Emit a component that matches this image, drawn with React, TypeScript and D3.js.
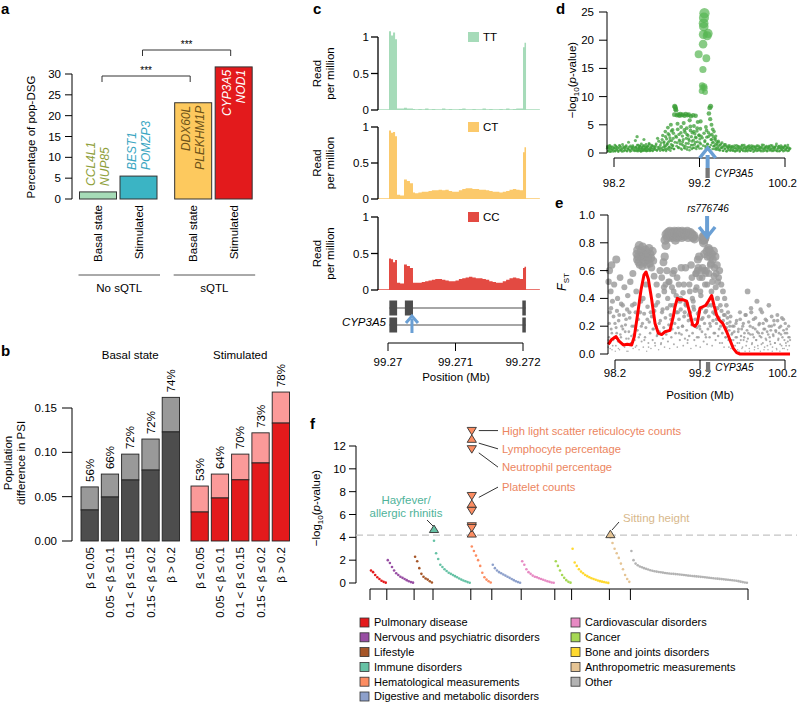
import React from 'react';
import * as d3 from 'd3';

const FONT = "'Liberation Sans', Arial, Helvetica, sans-serif";

// ---------------- Panel a ----------------
const aConditions = ['Basal state', 'Stimulated', 'Basal state', 'Stimulated'];
const aGroupOf = [0, 0, 1, 1];
const aGroupNames = ['No sQTL', 'sQTL'];
const aPercent = [1.7, 5.5, 23.1, 31.7];
const aGenesTop = ['CCL4L1', 'BEST1', 'DDX60L', 'CYP3A5'];
const aGenesBottom = ['NUP85', 'POMZP3', 'PLEKHM1P', 'NOD1'];
const aTicks = [0, 5, 10, 15, 20, 25, 30];
const aSignifPairs: [number, number, string][] = [[0, 2, '***'], [1, 3, '***']];

// ---------------- Panel b ----------------
const bBins = ['β ≤ 0.05', '0.05 < β ≤ 0.1', '0.1 < β ≤ 0.15', '0.15 < β ≤ 0.2', 'β > 0.2'];
const bBasalTotal = [0.061, 0.0755, 0.098, 0.115, 0.162];
const bBasalShared = [0.035, 0.0496, 0.0688, 0.08, 0.123];
const bBasalPct = ['56%', '66%', '72%', '72%', '74%'];
const bStimTotal = [0.062, 0.0755, 0.098, 0.122, 0.168];
const bStimShared = [0.0327, 0.0485, 0.069, 0.088, 0.133];
const bStimPct = ['53%', '64%', '70%', '73%', '78%'];
const bTicks = [0, 0.05, 0.1, 0.15];

// ---------------- Panel c ----------------
const cGenotypes = ['TT', 'CT', 'CC'];
const cBinStartBp = [-160, 15, 45, 75, 105, 133, 180, 237, 280, 325, 370, 400, 450, 500, 550, 600, 650, 700, 750, 800, 850, 900, 950, 1000, 1050, 1100, 1150, 1200, 1250, 1300, 1350, 1400, 1450, 1500, 1550, 1600, 1650, 1700, 1750, 1800, 1850, 1900, 1950, 2000, 2022, 2045];
const cBinEndBp = 2250;
const cCovTT = [0.01, 1.08, 1.02, 1.06, 0.97, 0.02, 0.02, 0.03, 0.02, 0.02, 0.015,
  0.01, 0.015, 0.01, 0.02, 0.01, 0.015, 0.01, 0.01, 0.02, 0.01, 0.015, 0.01, 0.01, 0.015, 0.02, 0.01, 0.01, 0.015, 0.01, 0.01, 0.02, 0.01, 0.015, 0.01, 0.01, 0.015, 0.01, 0.02, 0.01, 0.015, 0.02, 0.02,
  0.86, 0.92, 0.01];
const cCovCT = [0.01, 0.95, 0.92, 0.93, 0.87, 0.06, 0.05, 0.27, 0.25, 0.22, 0.09,
  0.08, 0.09, 0.1, 0.1, 0.11, 0.12, 0.12, 0.13, 0.12, 0.13, 0.11, 0.1, 0.1, 0.12, 0.14, 0.15, 0.15, 0.14, 0.14, 0.13, 0.13, 0.12, 0.11, 0.1, 0.1, 0.09, 0.1, 0.11, 0.13, 0.14, 0.13, 0.12,
  0.65, 0.72, 0.01];
const cCovCC = [0.01, 0.43, 0.42, 0.38, 0.41, 0.1, 0.09, 0.35, 0.33, 0.3, 0.1,
  0.1, 0.1, 0.11, 0.12, 0.13, 0.14, 0.15, 0.15, 0.14, 0.13, 0.12, 0.12, 0.13, 0.15, 0.16, 0.17, 0.18, 0.17, 0.16, 0.16, 0.15, 0.14, 0.12, 0.11, 0.1, 0.1, 0.12, 0.14, 0.16, 0.17, 0.16, 0.15,
  0.3, 0.32, 0.01];
const cTranscript1 = [[20, 135], [250, 370], [1990, 2040]];
const cTranscript2 = [[20, 135], [1990, 2040]];
const cSnpBp = 355;
const cXTicks = [99.27, 99.271, 99.272];

// ---------------- Panels d & e (SNPs: position Mb, -log10 p, FST) ----------------
const snps: [number, number, number][] = [
  [98.12, 0.8, 0.05], [98.125, 1.2, 0.52], [98.13, 0.3, 0.12], [98.135, 0.9, 0.6], [98.14, 0.5, 0.3], [98.145, 1.3, 0.08], [98.15, 0.2, 0.45], [98.155, 0.7, 0.18], [98.16, 1.0, 0.64], [98.165, 0.4, 0.03],
  [98.17, 1.1, 0.38], [98.18, 0.6, 0.1], [98.19, 0.25, 0.5], [98.2, 0.9, 0.22], [98.21, 1.4, 0.06], [98.215, 0.35, 0.68], [98.22, 0.75, 0.15], [98.23, 1.05, 0.4], [98.24, 0.5, 0.04], [98.25, 0.2, 0.28],
  [98.26, 0.85, 0.55], [98.27, 1.25, 0.12], [98.28, 0.45, 0.2], [98.29, 0.65, 0.35], [98.3, 1.5, 0.07], [98.31, 0.3, 0.48], [98.32, 0.95, 0.16], [98.33, 0.55, 0.25], [98.34, 1.15, 0.02], [98.35, 0.4, 0.42],
  [98.36, 0.8, 0.11], [98.37, 1.9, 0.3], [98.38, 0.6, 0.52], [98.39, 0.25, 0.08], [98.4, 1.0, 0.2], [98.41, 0.7, 0.58], [98.42, 1.3, 0.14], [98.43, 0.45, 0.36], [98.44, 0.9, 0.05], [98.45, 2.2, 0.45],
  [98.455, 0.5, 0.72], [98.46, 1.1, 0.68], [98.465, 0.35, 0.75], [98.47, 2.9, 0.7], [98.475, 0.8, 0.66], [98.48, 0.3, 0.12], [98.485, 1.4, 0.78], [98.49, 0.6, 0.64], [98.495, 1.0, 0.3], [98.5, 0.45, 0.71],
  [98.505, 1.2, 0.74], [98.51, 0.7, 0.2], [98.515, 0.25, 0.69], [98.52, 1.6, 0.63], [98.525, 0.5, 0.77], [98.53, 0.9, 0.4], [98.535, 0.35, 0.72], [98.54, 1.3, 0.66], [98.545, 0.6, 0.1], [98.55, 2.4, 0.7],
  [98.555, 0.8, 0.67], [98.56, 0.4, 0.75], [98.565, 1.1, 0.5], [98.57, 0.55, 0.73], [98.575, 1.5, 0.64], [98.58, 0.3, 0.25], [98.585, 0.95, 0.7], [98.59, 0.6, 0.68], [98.595, 1.2, 0.05], [98.6, 0.4, 0.76],
  [98.61, 1.7, 0.65], [98.615, 0.7, 0.72], [98.62, 0.35, 0.3], [98.625, 1.0, 0.69], [98.63, 0.5, 0.62], [98.64, 1.4, 0.74], [98.645, 0.8, 0.18], [98.65, 0.45, 0.67], [98.66, 1.2, 0.56], [98.67, 0.6, 0.08],
  [98.68, 0.9, 0.35], [98.69, 1.3, 0.5], [98.7, 0.5, 0.14], [98.71, 2.6, 0.42], [98.72, 0.7, 0.22], [98.73, 1.1, 0.6], [98.74, 0.4, 0.07], [98.75, 1.8, 0.55], [98.76, 0.6, 0.32], [98.77, 3.1, 0.66],
  [98.775, 1.0, 0.48], [98.78, 0.5, 0.45], [98.785, 2.0, 0.7], [98.79, 1.4, 0.82], [98.795, 0.7, 0.5], [98.8, 3.8, 0.78], [98.805, 1.2, 0.86], [98.81, 0.35, 0.6], [98.815, 2.5, 0.84], [98.82, 1.6, 0.4],
  [98.825, 0.8, 0.87], [98.83, 4.5, 0.52], [98.835, 1.9, 0.85], [98.84, 0.6, 0.52], [98.845, 3.2, 0.88], [98.85, 1.1, 0.35], [98.855, 2.7, 0.86], [98.86, 0.4, 0.25], [98.865, 5.0, 0.84], [98.87, 1.5, 0.48],
  [98.875, 2.2, 0.87], [98.88, 0.9, 0.58], [98.885, 4.1, 0.86], [98.89, 1.3, 0.45], [98.895, 3.5, 0.6], [98.9, 0.7, 0.88], [98.905, 6.8, 0.85], [98.91, 8.3, 0.82], [98.915, 8.1, 0.87], [98.92, 7.8, 0.42],
  [98.925, 7.6, 0.84], [98.93, 2.8, 0.55], [98.935, 6.7, 0.86], [98.94, 1.8, 0.3], [98.945, 4.2, 0.88], [98.95, 6.8, 0.5], [98.955, 1.0, 0.15], [98.96, 3.3, 0.85], [98.965, 6.6, 0.38], [98.97, 2.1, 0.4],
  [98.975, 6.9, 0.87], [98.98, 0.8, 0.62], [98.985, 4.6, 0.84], [98.99, 6.7, 0.88], [98.995, 1.5, 0.2], [99.0, 3.0, 0.44], [99.005, 6.8, 0.86], [99.01, 2.4, 0.5], [99.015, 5.3, 0.85], [99.02, 0.9, 0.3],
  [99.025, 6.6, 0.87], [99.03, 3.7, 0.62], [99.035, 1.2, 0.35], [99.04, 6.9, 0.86], [99.045, 2.6, 0.36], [99.05, 4.4, 0.88], [99.055, 0.6, 0.1], [99.06, 6.7, 0.84], [99.065, 3.1, 0.28], [99.07, 1.7, 0.86],
  [99.075, 6.8, 0.5], [99.08, 2.2, 0.45], [99.085, 5.8, 0.87], [99.09, 1.0, 0.25], [99.095, 4.0, 0.64], [99.1, 6.5, 0.86], [99.105, 2.9, 0.55], [99.11, 0.7, 0.4], [99.115, 3.6, 0.84], [99.12, 1.4, 0.38],
  [99.125, 6.7, 0.85], [99.13, 2.3, 0.32], [99.135, 4.8, 0.83], [99.14, 0.9, 0.2], [99.145, 3.4, 0.46], [99.15, 1.9, 0.58], [99.155, 6.6, 0.58], [99.16, 2.7, 0.48], [99.165, 1.1, 0.12], [99.17, 3.9, 0.6],
  [99.175, 2.0, 0.68], [99.18, 5.5, 0.62], [99.185, 1.3, 0.3], [99.19, 17.5, 0.7], [99.195, 3.2, 0.55], [99.2, 0.8, 0.18], [99.205, 2.5, 0.45], [99.21, 4.3, 0.42], [99.215, 1.6, 0.6], [99.22, 3.0, 0.25],
  [99.225, 11.0, 0.55], [99.23, 12.0, 0.62], [99.235, 11.6, 0.82], [99.24, 14.8, 0.84], [99.242, 19.3, 0.8], [99.245, 21.0, 0.82], [99.248, 23.0, 0.85], [99.25, 22.4, 0.72], [99.252, 24.0, 0.83], [99.255, 11.8, 0.6],
  [99.258, 24.8, 0.84], [99.26, 11.5, 0.5], [99.262, 2.0, 0.3], [99.265, 10.8, 0.58], [99.27, 1.2, 0.12], [99.275, 4.6, 0.6], [99.28, 16.8, 0.74], [99.285, 2.8, 0.5], [99.29, 20.8, 0.7], [99.295, 1.5, 0.35],
  [99.3, 21.2, 0.76], [99.305, 3.6, 0.58], [99.31, 7.0, 0.75], [99.315, 1.0, 0.22], [99.32, 8.0, 0.7], [99.325, 6.0, 0.64], [99.33, 8.3, 0.65], [99.335, 2.4, 0.45], [99.34, 5.0, 0.72], [99.345, 3.3, 0.52],
  [99.35, 1.8, 0.68], [99.355, 4.2, 0.3], [99.36, 2.9, 0.74], [99.365, 1.2, 0.56], [99.37, 3.8, 0.62], [99.375, 0.7, 0.15], [99.38, 2.4, 0.7], [99.385, 1.5, 0.48], [99.39, 3.0, 0.58], [99.395, 0.9, 0.25],
  [99.4, 2.1, 0.64], [99.405, 1.4, 0.4], [99.41, 0.6, 0.52], [99.42, 1.9, 0.55], [99.425, 0.8, 0.18], [99.43, 1.3, 0.6], [99.44, 0.5, 0.35], [99.45, 1.6, 0.5], [99.46, 0.9, 0.08], [99.47, 1.1, 0.45],
  [99.48, 0.4, 0.28], [99.49, 1.5, 0.4], [99.5, 0.7, 0.12], [99.51, 1.2, 0.35], [99.52, 0.3, 0.22], [99.53, 0.9, 0.3], [99.54, 1.3, 0.05], [99.55, 0.5, 0.2], [99.56, 1.0, 0.27], [99.57, 0.6, 0.1],
  [99.58, 1.1, 0.15], [99.59, 0.4, 0.06], [99.6, 0.8, 0.2], [99.61, 1.3, 0.03], [99.62, 0.3, 0.12], [99.63, 0.9, 0.24], [99.64, 0.5, 0.08], [99.65, 1.2, 0.16], [99.66, 0.7, 0.02], [99.67, 0.25, 0.3],
  [99.68, 1.0, 0.1], [99.69, 0.6, 0.18], [99.7, 1.4, 0.05], [99.71, 0.35, 0.22], [99.72, 0.8, 0.12], [99.73, 1.1, 0.02], [99.74, 0.45, 0.28], [99.75, 0.9, 0.09], [99.76, 0.3, 0.45], [99.77, 1.2, 0.15],
  [99.78, 0.6, 0.04], [99.79, 0.95, 0.2], [99.8, 0.4, 0.33], [99.81, 1.3, 0.07], [99.82, 0.7, 0.14], [99.83, 0.2, 0.25], [99.84, 1.0, 0.03], [99.85, 0.55, 0.18], [99.86, 1.15, 0.1], [99.87, 0.35, 0.38],
  [99.88, 0.8, 0.06], [99.89, 1.25, 0.15], [99.9, 0.5, 0.22], [99.91, 0.9, 0.02], [99.92, 0.3, 0.12], [99.93, 1.1, 0.3], [99.94, 0.65, 0.08], [99.95, 1.4, 0.18], [99.96, 0.4, 0.05], [99.97, 0.85, 0.25],
  [99.98, 1.05, 0.1], [99.99, 0.3, 0.16], [100.0, 0.75, 0.03], [100.01, 1.2, 0.35], [100.02, 0.45, 0.12], [100.03, 0.9, 0.07], [100.04, 0.6, 0.2], [100.05, 1.3, 0.02], [100.06, 0.35, 0.14], [100.07, 0.8, 0.24],
  [100.08, 1.0, 0.08], [100.09, 0.5, 0.17], [100.1, 1.6, 0.04], [100.11, 0.3, 0.28], [100.12, 0.85, 0.1], [100.13, 1.2, 0.15], [100.14, 0.4, 0.02], [100.15, 0.95, 0.2], [100.16, 0.6, 0.06], [100.17, 1.1, 0.12],
  [100.18, 0.3, 0.25], [100.19, 0.8, 0.04], [100.2, 1.3, 0.15], [100.21, 0.5, 0.08], [100.22, 0.9, 0.18], [100.23, 0.35, 0.03], [100.24, 1.0, 0.12], [100.25, 0.6, 0.06], [100.26, 0.8, 0.1],
];
const snpsLow: [number, number, number][] = [
  [98.123, 1.0, 0.1], [98.133, 0.4, 0.22], [98.143, 0.9, 0.04], [98.153, 1.3, 0.33], [98.163, 0.2, 0.15], [98.173, 0.7, 0.06], [98.183, 1.1, 0.27], [98.193, 0.5, 0.12], [98.203, 0.85, 0.02], [98.213, 0.3, 0.19],
  [98.223, 1.2, 0.31], [98.233, 0.6, 0.09], [98.243, 0.95, 0.24], [98.253, 0.35, 0.03], [98.263, 1.35, 0.14], [98.273, 0.55, 0.36], [98.283, 1.0, 0.07], [98.293, 0.25, 0.18], [98.303, 0.8, 0.28], [98.313, 1.15, 0.05],
  [98.323, 0.45, 0.21], [98.333, 0.9, 0.11], [98.343, 1.3, 0.32], [98.353, 0.3, 0.02], [98.363, 0.7, 0.16], [98.373, 1.05, 0.26], [98.383, 0.5, 0.08], [98.393, 1.25, 0.13], [98.403, 0.4, 0.35], [98.413, 0.85, 0.04],
  [98.423, 1.1, 0.2], [98.433, 0.6, 0.1], [98.443, 0.35, 0.3], [98.453, 1.0, 0.06], [98.463, 0.75, 0.17], [98.473, 1.4, 0.25], [98.483, 0.5, 0.03], [98.493, 0.9, 0.14], [98.503, 1.2, 0.38], [98.513, 0.3, 0.09],
  [98.523, 0.8, 0.22], [98.533, 1.05, 0.05], [98.543, 0.45, 0.29], [98.553, 1.3, 0.12], [98.563, 0.65, 0.19], [98.573, 0.95, 0.02], [98.583, 0.4, 0.34], [98.593, 1.15, 0.08], [98.603, 0.7, 0.23], [98.613, 1.5, 0.15],
  [98.623, 0.5, 0.04], [98.633, 0.9, 0.27], [98.643, 1.25, 0.1], [98.653, 0.35, 0.18], [98.663, 0.8, 0.31], [98.673, 1.1, 0.06], [98.683, 0.6, 0.2], [98.693, 1.6, 0.13], [98.703, 0.45, 0.37], [98.713, 1.0, 0.03],
  [98.723, 2.1, 0.16], [98.733, 0.7, 0.24], [98.743, 1.4, 0.08], [98.753, 0.9, 0.3], [98.763, 2.4, 0.11], [98.773, 0.5, 0.19], [98.783, 1.8, 0.05], [98.793, 1.1, 0.26], [98.803, 2.9, 0.14], [98.813, 0.6, 0.33],
  [98.823, 1.5, 0.09], [98.833, 3.4, 0.21], [98.843, 1.0, 0.04], [98.853, 2.2, 0.28], [98.863, 0.8, 0.12], [98.873, 3.9, 0.18], [98.883, 1.3, 0.35], [98.893, 2.6, 0.07], [98.903, 0.7, 0.22], [98.913, 1.9, 0.15],
  [98.923, 3.0, 0.3], [98.933, 1.2, 0.05], [98.943, 5.2, 0.19], [98.953, 0.9, 0.25], [98.963, 2.3, 0.1], [98.973, 1.6, 0.32], [98.983, 3.6, 0.14], [98.993, 0.6, 0.2], [99.003, 2.0, 0.06], [99.013, 1.3, 0.27],
  [99.023, 4.1, 0.11], [99.033, 0.8, 0.36], [99.043, 1.7, 0.17], [99.053, 3.3, 0.08], [99.063, 1.0, 0.24], [99.073, 2.5, 0.13], [99.083, 0.5, 0.3], [99.093, 4.7, 0.04], [99.103, 1.4, 0.21], [99.113, 2.1, 0.15],
  [99.123, 0.9, 0.34], [99.133, 3.8, 0.1], [99.143, 1.5, 0.25], [99.153, 2.8, 0.06], [99.163, 0.7, 0.19], [99.173, 4.4, 0.29], [99.183, 1.1, 0.12], [99.193, 3.1, 0.2], [99.203, 1.8, 0.05], [99.213, 5.6, 0.33],
  [99.223, 0.8, 0.16], [99.233, 2.7, 0.26], [99.243, 1.3, 0.09], [99.253, 3.5, 0.22], [99.263, 2.2, 0.14], [99.273, 0.9, 0.31], [99.283, 4.0, 0.07], [99.293, 1.6, 0.18], [99.303, 2.9, 0.27], [99.313, 1.0, 0.12],
  [99.323, 3.2, 0.2], [99.333, 1.4, 0.35], [99.343, 2.4, 0.06], [99.353, 0.7, 0.24], [99.363, 1.9, 0.15], [99.373, 1.2, 0.29], [99.383, 2.6, 0.1], [99.393, 0.6, 0.22], [99.403, 1.7, 0.33], [99.413, 1.0, 0.13],
  [99.423, 2.1, 0.26], [99.433, 0.5, 0.08], [99.443, 1.4, 0.2], [99.453, 0.9, 0.31], [99.463, 1.8, 0.15], [99.473, 0.4, 0.24], [99.483, 1.2, 0.05], [99.493, 0.8, 0.28], [99.503, 1.5, 0.12], [99.513, 0.3, 0.19],
  [99.523, 1.1, 0.26], [99.533, 0.6, 0.1], [99.543, 0.95, 0.17], [99.553, 1.3, 0.23], [99.563, 0.4, 0.04], [99.573, 0.85, 0.14], [99.583, 1.2, 0.2], [99.593, 0.5, 0.1], [99.603, 1.0, 0.16], [99.613, 0.3, 0.06],
  [99.623, 0.75, 0.22], [99.633, 1.35, 0.12], [99.643, 0.45, 0.03], [99.653, 0.9, 0.18], [99.663, 1.15, 0.08], [99.673, 0.35, 0.25], [99.683, 0.8, 0.13], [99.693, 1.25, 0.04], [99.703, 0.55, 0.2], [99.713, 0.95, 0.1],
  [99.723, 1.4, 0.15], [99.733, 0.3, 0.28], [99.743, 0.7, 0.06], [99.753, 1.1, 0.17], [99.763, 0.5, 0.11], [99.773, 0.9, 0.23], [99.783, 1.3, 0.02], [99.793, 0.4, 0.14], [99.803, 0.85, 0.3], [99.813, 1.05, 0.08],
  [99.823, 0.6, 0.19], [99.833, 1.2, 0.12], [99.843, 0.35, 0.05], [99.853, 0.95, 0.26], [99.863, 0.7, 0.1], [99.873, 1.3, 0.16], [99.883, 0.45, 0.04], [99.893, 0.8, 0.21], [99.903, 1.1, 0.13], [99.913, 0.5, 0.32],
  [99.923, 0.9, 0.07], [99.933, 1.45, 0.15], [99.943, 0.3, 0.22], [99.953, 0.75, 0.03], [99.963, 1.0, 0.18], [99.973, 0.55, 0.11], [99.983, 1.2, 0.24], [99.993, 0.4, 0.06], [100.003, 0.9, 0.14], [100.013, 1.1, 0.2],
  [100.023, 0.6, 0.09], [100.033, 1.35, 0.17], [100.043, 0.35, 0.27], [100.053, 0.8, 0.05], [100.063, 1.05, 0.13], [100.073, 0.5, 0.21], [100.083, 0.95, 0.08], [100.093, 1.25, 0.16], [100.103, 0.4, 0.03], [100.113, 0.7, 0.24],
  [100.123, 1.15, 0.11], [100.133, 0.3, 0.19], [100.143, 0.85, 0.07], [100.153, 1.3, 0.14], [100.163, 0.55, 0.26], [100.173, 0.9, 0.04], [100.183, 1.0, 0.17], [100.193, 0.45, 0.1], [100.203, 1.2, 0.22], [100.213, 0.65, 0.06],
  [100.223, 0.95, 0.15], [100.233, 1.4, 0.09], [100.243, 0.4, 0.2], [100.253, 0.8, 0.12],
];
const eFstLine: [number, number][] = [
  [98.121, 0.07], [98.161, 0.105], [98.212, 0.125], [98.251, 0.09], [98.298, 0.065], [98.345, 0.07], [98.396, 0.065], [98.427, 0.125],
  [98.467, 0.29], [98.506, 0.46], [98.541, 0.57], [98.565, 0.59], [98.592, 0.54], [98.632, 0.39], [98.671, 0.22], [98.71, 0.15],
  [98.749, 0.14], [98.788, 0.16], [98.847, 0.17], [98.886, 0.27], [98.906, 0.34], [98.933, 0.4], [98.965, 0.39], [99.004, 0.39],
  [99.043, 0.38], [99.082, 0.29], [99.114, 0.21], [99.141, 0.2], [99.168, 0.22], [99.2, 0.33], [99.232, 0.34], [99.267, 0.35],
  [99.298, 0.38], [99.337, 0.42], [99.365, 0.35], [99.396, 0.28], [99.427, 0.245], [99.467, 0.22], [99.514, 0.16], [99.553, 0.1],
  [99.592, 0.04], [99.631, 0.01], [99.671, 0.0], [100.259, 0.0],
];
const deXTicks = [98.2, 99.2, 100.2];
const dYTicks = [0, 5, 10, 15, 20, 25];
const eYTicks = [0, 0.2, 0.4, 0.6, 0.8, 1.0];
const geneCyp = [99.27, 99.32];
const leadSnp = 99.26;

// ---------------- Panel f ----------------
const fCategories = ['Pulmonary disease', 'Nervous and psychiatric disorders', 'Lifestyle', 'Immune disorders', 'Hematological measurements', 'Digestive and metabolic disorders', 'Cardiovascular disorders', 'Cancer', 'Bone and joints disorders', 'Anthropometric measurements', 'Other'];
const fColors = ['#e41a1c', '#984ea3', '#a65628', '#66c2a5', '#fc8d62', '#8da0cb', '#e78ac3', '#a6d854', '#ffd92f', '#e5c494', '#b3b3b3'];
const fTraitValues: number[][] = [
  [1.1, 0.95, 0.7, 0.5, 0.35, 0.2, 0.1, 0.03],
  [2.0, 1.75, 1.4, 1.1, 0.85, 0.7, 0.55, 0.45, 0.35, 0.25, 0.15, 0.08, 0.03],
  [2.3, 1.9, 1.3, 0.8, 0.55, 0.4, 0.3, 0.15, 0.05],
  [3.7, 2.6, 2.1, 1.6, 1.4, 1.2, 1.05, 0.9, 0.8, 0.7, 0.6, 0.5, 0.4, 0.3, 0.22, 0.15, 0.08, 0.02],
  [3.2, 2.8, 2.4, 2.0, 1.5, 0.9, 0.5, 0.3, 0.15, 0.05],
  [1.6, 1.3, 1.1, 0.95, 0.85, 0.75, 0.65, 0.55, 0.45, 0.35, 0.25, 0.15, 0.08, 0.02],
  [1.9, 1.6, 1.2, 0.95, 0.8, 0.65, 0.55, 0.5, 0.42, 0.35, 0.28, 0.22, 0.15, 0.1, 0.05, 0.02],
  [1.9, 1.5, 1.1, 0.7, 0.45, 0.25, 0.1, 0.03],
  [3.0, 1.8, 1.5, 1.2, 1.0, 0.85, 0.7, 0.6, 0.5, 0.42, 0.35, 0.28, 0.22, 0.16, 0.12, 0.08, 0.04, 0.01],
  [4.0, 3.5, 3.0, 2.6, 2.2, 1.7, 1.2, 0.7, 0.35, 0.1],
  [2.8, 2.0, 1.7, 1.55, 1.45, 1.38, 1.3, 1.24, 1.18, 1.12, 1.07, 1.03, 1.0, 0.97, 0.94, 0.91, 0.88, 0.85, 0.83, 0.81, 0.8, 0.78, 0.76, 0.74, 0.72, 0.7, 0.68, 0.65, 0.63, 0.61, 0.6, 0.58, 0.56, 0.54, 0.52, 0.5, 0.48, 0.46, 0.44, 0.42, 0.4, 0.38, 0.36, 0.34, 0.32, 0.3, 0.28, 0.26, 0.24, 0.22, 0.2, 0.16, 0.12, 0.08, 0.05, 0.02],
];
const fSignificant: { cat: number; value: number; dir: 'up' | 'down' }[] = [
  { cat: 3, value: 4.75, dir: 'up' },
  { cat: 4, value: 13.3, dir: 'down' },
  { cat: 4, value: 12.65, dir: 'up' },
  { cat: 4, value: 11.7, dir: 'down' },
  { cat: 4, value: 7.6, dir: 'down' },
  { cat: 4, value: 6.95, dir: 'up' },
  { cat: 4, value: 6.3, dir: 'down' },
  { cat: 4, value: 4.95, dir: 'down' },
  { cat: 4, value: 4.35, dir: 'up' },
  { cat: 4, value: 4.8, dir: 'down' },
  { cat: 9, value: 4.3, dir: 'up' },
];
const fHemLabels: [string, number, number][] = [
  ['High light scatter reticulocyte counts', 13.35, 13.35],
  ['Lymphocyte percentage', 12.25, 11.75],
  ['Neutrophil percentage', 11.4, 10.15],
  ['Platelet counts', 7.5, 8.4],
];
const fThreshold = 4.2;
const fYTicks = [0, 2, 4, 6, 8, 10, 12];

const fs = 11.5;

function RotText({ x, y, anchor = 'middle', children, ...rest }: any) {
  return (
    <text transform={`translate(${x},${y}) rotate(-90)`} textAnchor={anchor} dy="0.35em" fontSize={fs} {...rest}>
      {children}
    </text>
  );
}

function PanelA() {
  const y = d3.scaleLinear().domain([0, 30]).range([199, 74]);
  const slotX = d3.scaleLinear().domain([0, 1]).range([98, 138.5]);
  const cx = (i: number) => slotX(i + aGroupOf[i] * 0.35);
  const bw = 37;
  const fills = ['#a6dbb7', '#3bb4c4', '#fdc95e', '#e31a1c'];
  const geneFill = ['#8f9f3a', '#3aa6c2', '#6e5318', '#ffffff'];
  const bracketY = [76, 50];
  return (
    <g>
      <text x={1} y={14} fontSize={15} fontWeight="bold">a</text>
      <line x1={72} x2={72} y1={y(0)} y2={y(30)} stroke="#000" />
      {aTicks.map(t => (
        <g key={t}>
          <line x1={65} x2={72} y1={y(t)} y2={y(t)} stroke="#000" />
          <text x={61} y={y(t)} dy="0.35em" textAnchor="end" fontSize={fs}>{t}</text>
        </g>
      ))}
      <RotText x={31} y={137}>Percentage of pop-DSG</RotText>
      {aPercent.map((v, i) => (
        <rect key={i} x={cx(i) - bw / 2} y={y(v)} width={bw} height={y(0) - y(v)} fill={fills[i]} stroke="#333" strokeWidth={1} />
      ))}
      {aPercent.map((v, i) => {
        const outside = i < 2;
        const yy = outside ? y(v) - 6 : y(v) + 3;
        const anchor = outside ? 'start' : 'end';
        return (
          <g key={'g' + i} fontStyle="italic">
            <RotText x={cx(i) - 7} y={yy} anchor={anchor} fill={geneFill[i]} fontSize={12}>{aGenesTop[i]}</RotText>
            <RotText x={cx(i) + 7} y={yy} anchor={anchor} fill={geneFill[i]} fontSize={12}>{aGenesBottom[i]}</RotText>
          </g>
        );
      })}
      {aConditions.map((c, i) => (
        <RotText key={'c' + i} x={cx(i)} y={205} anchor="end">{c}</RotText>
      ))}
      {aGroupNames.map((g, gi) => {
        const idx = aGroupOf.map((v, i) => (v === gi ? i : -1)).filter(i => i >= 0);
        const x1 = cx(idx[0]) - bw / 2 - 1;
        const x2 = cx(idx[idx.length - 1]) + bw / 2 + 3;
        return (
          <g key={g}>
            <line x1={x1} x2={x2} y1={275} y2={275} stroke="#555" />
            <text x={(x1 + x2) / 2} y={292} textAnchor="middle" fontSize={fs}>{g}</text>
          </g>
        );
      })}
      {aSignifPairs.map(([i, j, s], k) => {
        const x1 = cx(i) + 4;
        const x2 = cx(j) - 3;
        const by = bracketY[k];
        return (
          <g key={'s' + k}>
            <path d={`M${x1},${by + 6}V${by}H${x2}V${by + 6}`} fill="none" stroke="#333" />
            <text x={(x1 + x2) / 2} y={by - 2} textAnchor="middle" fontSize={10} fill="#000">{s}</text>
          </g>
        );
      })}
    </g>
  );
}

function PanelB() {
  const y = d3.scaleLinear().domain([0, 0.15]).range([541, 408]);
  const xB = d3.scaleBand().domain(bBins).range([81, 179.5]).paddingInner(0.148);
  const xS = d3.scaleBand().domain(bBins).range([191, 289.5]).paddingInner(0.148);
  const groups = [
    { x: xB, total: bBasalTotal, shared: bBasalShared, pct: bBasalPct, dark: '#4d4d4d', light: '#999999', title: 'Basal state' },
    { x: xS, total: bStimTotal, shared: bStimShared, pct: bStimPct, dark: '#e31a1c', light: '#fb9a99', title: 'Stimulated' },
  ];
  return (
    <g>
      <text x={1} y={356} fontSize={15} fontWeight="bold">b</text>
      <line x1={72} x2={72} y1={y(0)} y2={y(0.15)} stroke="#000" />
      {bTicks.map(t => (
        <g key={t}>
          <line x1={62} x2={72} y1={y(t)} y2={y(t)} stroke="#000" />
          <text x={57} y={y(t)} dy="0.35em" textAnchor="end" fontSize={fs}>{t.toFixed(2)}</text>
        </g>
      ))}
      <text transform="translate(12,463) rotate(-90)" textAnchor="middle" fontSize={fs}>Population</text>
      <text transform="translate(25,463) rotate(-90)" textAnchor="middle" fontSize={fs}>difference in PSI</text>
      {groups.map((g, gi) => {
        const [r0, r1] = g.x.range();
        return (
          <g key={gi}>
            <text x={(r0 + r1) / 2} y={359} textAnchor="middle" fontSize={fs}>{g.title}</text>
            {bBins.map((b, i) => {
              const x0 = g.x(b)!;
              const w = g.x.bandwidth();
              return (
                <g key={b}>
                  <rect x={x0} y={y(g.total[i])} width={w} height={y(g.shared[i]) - y(g.total[i])} fill={g.light} stroke="#222" strokeWidth={0.9} />
                  <rect x={x0} y={y(g.shared[i])} width={w} height={y(0) - y(g.shared[i])} fill={g.dark} stroke="#222" strokeWidth={0.9} />
                  <RotText x={x0 + w / 2} y={y(g.total[i]) - 5} anchor="start">{g.pct[i]}</RotText>
                  <RotText x={x0 + w / 2} y={547} anchor="end">{b}</RotText>
                </g>
              );
            })}
          </g>
        );
      })}
    </g>
  );
}

function PanelC() {
  const x = d3.scaleLinear().domain([99.27, 99.272]).range([388, 523]);
  const mb = (bp: number) => 99.27 + bp / 1e6;
  const tracks = [
    { name: cGenotypes[0], cov: cCovTT, top: 37, bottom: 110, fill: '#a6dbb9' },
    { name: cGenotypes[1], cov: cCovCT, top: 127, bottom: 199, fill: '#fbc96b' },
    { name: cGenotypes[2], cov: cCovCC, top: 217, bottom: 290, fill: '#e34a42' },
  ];
  const txY = [308, 325];
  const txs = [cTranscript1, cTranscript2];
  const ax = 378;
  const sx = x(mb(cSnpBp));
  return (
    <g>
      <text x={313} y={14} fontSize={15} fontWeight="bold">c</text>
      {tracks.map(t => {
        const y = d3.scaleLinear().domain([0, 1]).range([t.bottom, t.top]);
        const pts: [number, number][] = cBinStartBp.map((b, i) => [mb(b), t.cov[i]]);
        pts.push([mb(cBinEndBp), t.cov[t.cov.length - 1]]);
        const area = d3.area<[number, number]>().x(d => x(d[0])).y0(y(0)).y1(d => y(d[1])).curve(d3.curveStepAfter);
        const mid = (t.top + t.bottom) / 2;
        return (
          <g key={t.name}>
            <path d={area(pts)!} fill={t.fill} />
            <line x1={ax} x2={ax} y1={t.top} y2={t.bottom} stroke="#000" strokeWidth={1.3} />
            {[0, 0.5, 1].map(v => (
              <g key={v}>
                <line x1={ax - 7} x2={ax} y1={y(v)} y2={y(v)} stroke="#000" strokeWidth={1.3} />
                <text x={ax - 9} y={y(v)} dy="0.35em" textAnchor="end" fontSize={fs}>{v}</text>
              </g>
            ))}
            <text transform={`translate(321,${mid}) rotate(-90)`} textAnchor="middle" fontSize={fs}>Read</text>
            <text transform={`translate(334,${mid}) rotate(-90)`} textAnchor="middle" fontSize={fs}>per million</text>
            <rect x={468} y={t.top - 5} width={11} height={10} fill={t.fill} />
            <text x={483} y={t.top} dy="0.35em" fontSize={fs}>{t.name}</text>
          </g>
        );
      })}
      {txs.map((tx, k) => (
        <g key={k}>
          <line x1={x(mb(tx[0][0]))} x2={x(mb(tx[tx.length - 1][1]))} y1={txY[k]} y2={txY[k]} stroke="#888" strokeWidth={1.5} />
          {tx.map((e, j) => (
            <rect key={j} x={x(mb(e[0]))} y={txY[k] - 7.5} width={Math.max(3.5, x(mb(e[1])) - x(mb(e[0])))} height={15} fill="#4d4d4d" />
          ))}
        </g>
      ))}
      <text x={386} y={322} dy="0.35em" textAnchor="end" fontSize={fs} fontStyle="italic">CYP3A5</text>
      <g stroke="#6a9fd4" fill="none" strokeWidth={3}>
        <line x1={sx} x2={sx} y1={333} y2={319} />
        <path d={`M${sx - 6},${323} L${sx},${316} L${sx + 6},${323}`} />
      </g>
      <line x1={x(cXTicks[0])} x2={x(cXTicks[2])} y1={343} y2={343} stroke="#000" />
      {cXTicks.map(t => (
        <g key={t}>
          <line x1={x(t)} x2={x(t)} y1={343} y2={351} stroke="#000" />
          <text x={x(t)} y={366} textAnchor="middle" fontSize={fs}>{t}</text>
        </g>
      ))}
      <text x={456} y={381} textAnchor="middle" fontSize={fs}>Position (Mb)</text>
    </g>
  );
}

function XGeneAxis({ x, yLine, labelDy, geneDy, label }: any) {
  return (
    <g>
      <line x1={x(deXTicks[0])} x2={x(deXTicks[2])} y1={yLine} y2={yLine} stroke="#000" />
      {deXTicks.map((t, i) => {
        const last = i === deXTicks.length - 1;
        return (
          <g key={t}>
            <line x1={x(t)} x2={x(t)} y1={yLine} y2={yLine + 9} stroke="#000" />
            <text x={last ? 797 : x(t)} y={yLine + labelDy} textAnchor={last ? 'end' : 'middle'} fontSize={fs}>{t}</text>
          </g>
        );
      })}
      <rect x={x(geneCyp[0])} y={yLine + geneDy} width={Math.max(4, x(geneCyp[1]) - x(geneCyp[0]))} height={10} fill="#777" />
      <text x={x(geneCyp[1]) + 5} y={yLine + geneDy + 5} dy="0.35em" fontSize={10} fontStyle="italic">CYP3A5</text>
      {label && <text x={700} y={yLine + 39} textAnchor="middle" fontSize={fs}>{label}</text>}
    </g>
  );
}

function PanelD() {
  const x = d3.scaleLinear().domain([98.2, 100.2]).range([614, 785]);
  const y = d3.scaleLinear().domain([0, 25]).range([153, 12]);
  const sorted = [...snps, ...snpsLow].sort((a, b) => a[1] - b[1]);
  const ax = 607;
  const ar = x(leadSnp) + 3;
  return (
    <g>
      <text x={556} y={14} fontSize={15} fontWeight="bold">d</text>
      {sorted.map((s, i) => (
        <circle key={i} cx={x(s[0])} cy={y(s[1])} r={1.2 + s[1] * 0.16} fill={s[1] > 9 ? '#56b551' : '#3a9e35'} fillOpacity={s[1] > 9 ? 0.7 : 0.75} />
      ))}
      <line x1={ax} x2={ax} y1={y(0)} y2={y(25)} stroke="#000" />
      {dYTicks.map(t => (
        <g key={t}>
          <line x1={ax - 8} x2={ax} y1={y(t)} y2={y(t)} stroke="#000" />
          <text x={ax - 13} y={y(t)} dy="0.35em" textAnchor="end" fontSize={fs}>{t}</text>
        </g>
      ))}
      <text transform="translate(576,80) rotate(-90)" textAnchor="middle" fontSize={fs}>
        −log<tspan fontSize={8} dy={3}>10</tspan><tspan dy={-3}>(</tspan><tspan fontStyle="italic">p</tspan>-value)
      </text>
      <XGeneAxis x={x} yLine={158} labelDy={29} geneDy={10} />
      <g stroke="#6a9fd4" fill="none">
        <line x1={ar} x2={ar} y1={168} y2={155} strokeWidth={4} />
        <path d={`M${ar - 8},${158} L${ar},${148} L${ar + 8},${158}`} strokeWidth={3.5} />
      </g>
    </g>
  );
}

function PanelE() {
  const x = d3.scaleLinear().domain([98.2, 100.2]).range([615, 785]);
  const y = d3.scaleLinear().domain([0, 1]).range([354, 215]);
  const sorted = [...snps, ...snpsLow].sort((a, b) => a[2] - b[2]);
  const line = d3.line<[number, number]>().x(d => x(d[0])).y(d => y(d[1]));
  const ax = 608;
  const ar = x(leadSnp) + 2;
  return (
    <g>
      <text x={555} y={208} fontSize={15} fontWeight="bold">e</text>
      {sorted.map((s, i) => (
        <circle key={i} cx={x(s[0])} cy={y(s[2])} r={0.6 + s[2] * 5} fill="#999" fillOpacity={0.8} />
      ))}
      <path d={line(eFstLine)!} fill="none" stroke="#ff0000" strokeWidth={3} strokeLinejoin="round" />
      <line x1={ax} x2={ax} y1={y(0)} y2={y(1)} stroke="#000" />
      {eYTicks.map(t => (
        <g key={t}>
          <line x1={ax - 8} x2={ax} y1={y(t)} y2={y(t)} stroke="#000" />
          <text x={ax - 13} y={y(t)} dy="0.35em" textAnchor="end" fontSize={fs}>{t.toFixed(1)}</text>
        </g>
      ))}
      <text transform="translate(566,282) rotate(-90)" textAnchor="middle" fontSize={fs + 1} fontStyle="italic">
        F<tspan fontSize={8} dy={3} fontStyle="normal">ST</tspan>
      </text>
      <XGeneAxis x={x} yLine={360} labelDy={17} geneDy={2} label="Position (Mb)" />
      <text x={708} y={212} textAnchor="middle" fontSize={10} fontStyle="italic">rs776746</text>
      <g stroke="#6a9fd4" fill="none">
        <line x1={ar} x2={ar} y1={216} y2={234} strokeWidth={4} />
        <path d={`M${ar - 8},${227} L${ar},${237} L${ar + 8},${227}`} strokeWidth={3.5} />
      </g>
    </g>
  );
}

function tri(cx: number, cy: number, dir: 'up' | 'down', h = 7.5, w = 4.6) {
  if (dir === 'up') return `M${cx - w},${cy + h / 2}L${cx + w},${cy + h / 2}L${cx},${cy - h / 2}Z`;
  return `M${cx - w},${cy - h / 2}L${cx + w},${cy - h / 2}L${cx},${cy + h / 2}Z`;
}

function PanelF() {
  const counts = fTraitValues.map(v => v.length);
  const total = d3.sum(counts);
  const starts = counts.map((_, i) => d3.sum(counts.slice(0, i)));
  const x = d3.scaleLinear().domain([0, total]).range([370, 748]);
  const y = d3.scaleLinear().domain([0, 12]).range([583, 446]);
  const ax = 356;
  const hemX = x(starts[4]) + 1;
  const labX = 502;
  const hemColor = '#ec8560';
  return (
    <g>
      <text x={310} y={429} fontSize={15} fontWeight="bold">f</text>
      <line x1={ax} x2={ax} y1={y(0)} y2={y(12)} stroke="#000" />
      {fYTicks.map(t => (
        <g key={t}>
          <line x1={ax - 7} x2={ax} y1={y(t)} y2={y(t)} stroke="#000" />
          <text x={ax - 10} y={y(t)} dy="0.35em" textAnchor="end" fontSize={fs}>{t}</text>
        </g>
      ))}
      <text transform="translate(320,508) rotate(-90)" textAnchor="middle" fontSize={fs}>
        −log<tspan fontSize={8} dy={3}>10</tspan><tspan dy={-3}>(</tspan><tspan fontStyle="italic">p</tspan>-value)
      </text>
      <line x1={ax} x2={797} y1={y(fThreshold)} y2={y(fThreshold)} stroke="#c4c4c4" strokeWidth={1.3} strokeDasharray="7,4" />
      {fTraitValues.map((vals, ci) => (
        <g key={ci} fill={fColors[ci]}>
          {vals.map((v, j) => (
            <circle key={j} cx={x(starts[ci] + j) + 1} cy={y(v)} r={1.3} />
          ))}
        </g>
      ))}
      <line x1={x(0)} x2={x(total)} y1={589} y2={589} stroke="#000" />
      {[...starts, total].map((s, i) => (
        <line key={i} x1={x(s)} x2={x(s)} y1={589} y2={600} stroke="#000" />
      ))}
      {fHemLabels.map(([t, mv, lv]) => (
        <g key={t}>
          <line x1={hemX + 7} y1={y(mv)} x2={labX - 4} y2={y(lv)} stroke="#333" strokeWidth={1} />
          <text x={labX} y={y(lv)} dy="0.35em" fontSize={11.2} fill={hemColor}>{t}</text>
        </g>
      ))}
      {fSignificant.map((s, i) => (
        <path key={i} d={tri(x(starts[s.cat]) + 1, y(s.value), s.dir)} fill={fColors[s.cat]} stroke="#333" strokeWidth={0.9} />
      ))}
      <line x1={427} y1={520} x2={433} y2={526} stroke="#333" />
      <text x={406} y={500} dy="0.35em" textAnchor="middle" fontSize={fs} fill="#4fb39a">Hayfever/</text>
      <text x={406} y={513} dy="0.35em" textAnchor="middle" fontSize={fs} fill="#4fb39a">allergic rhinitis</text>
      <line x1={619} y1={522} x2={612} y2={530} stroke="#333" />
      <text x={623} y={518} dy="0.35em" fontSize={fs} fill="#d8b88c">Sitting height</text>
      {fCategories.map((c, i) => {
        const col = i < 6 ? 0 : 1;
        const row = i < 6 ? i : i - 6;
        const lx = col === 0 ? 360 : 571;
        const ly = 622.5 + row * 14.8;
        return (
          <g key={c}>
            <rect x={lx} y={ly - 4.5} width={9} height={9} fill={fColors[i]} stroke="#333" strokeWidth={0.8} />
            <text x={lx + 14} y={ly} dy="0.35em" fontSize={11}>{c}</text>
          </g>
        );
      })}
    </g>
  );
}

export default function App() {
  return (
    <svg width={797} height={704} style={{ position: 'absolute', left: 0, top: 0, background: '#fff' }} fontFamily={FONT}>
      <rect width={797} height={704} fill="#fff" />
      <PanelA />
      <PanelB />
      <PanelC />
      <PanelD />
      <PanelE />
      <PanelF />
    </svg>
  );
}
